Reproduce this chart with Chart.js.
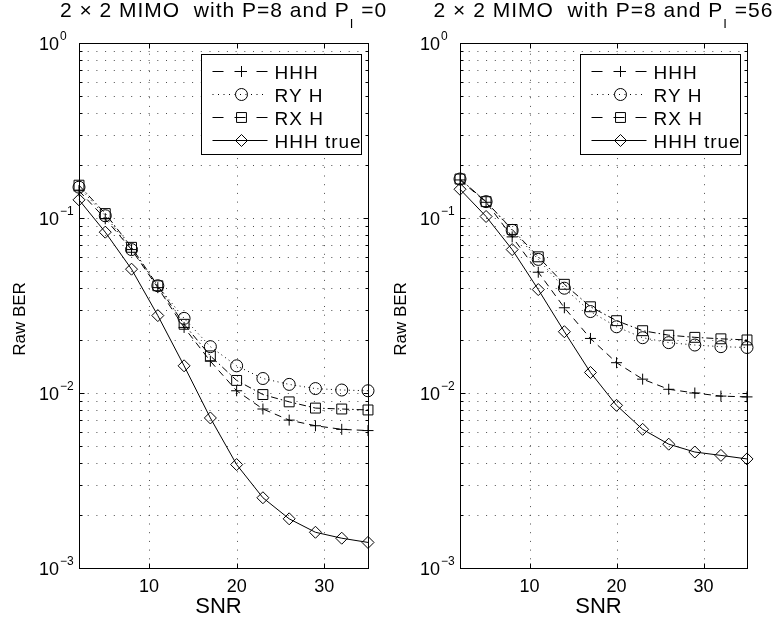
<!DOCTYPE html>
<html>
<head>
<meta charset="utf-8">
<script src="https://cdn.jsdelivr.net/npm/chart.js@4.4.1/dist/chart.umd.min.js"></script>
<style>
  body { margin: 0; background: #fff; }
  #wrap { position: relative; width: 778px; height: 621px; }
  canvas { position: absolute; top: 0; }
</style>
</head>
<body>
<div id="wrap">
  <canvas id="leftChart" width="389" height="621" style="left:0px"></canvas>
  <canvas id="rightChart" width="389" height="621" style="left:389px"></canvas>
</div>
<script>
const snr = [2, 5, 8, 11, 14, 17, 20, 23, 26, 29, 32, 35];

const hhhLeft = [0.143, 0.099, 0.066, 0.040, 0.0237, 0.0152, 0.0103, 0.0081, 0.0070, 0.0065, 0.0062, 0.0061];
const ryLeft = [0.150, 0.103, 0.066, 0.041, 0.0267, 0.0184, 0.0143, 0.0121, 0.0112, 0.0106, 0.0104, 0.0103];
const rxLeft = [0.154, 0.106, 0.068, 0.041, 0.0247, 0.0163, 0.0118, 0.0098, 0.0089, 0.0082, 0.0081, 0.0080];
const trueLeft = [0.127, 0.083, 0.051, 0.0277, 0.0143, 0.0072, 0.0039, 0.00252, 0.00191, 0.00160, 0.00148, 0.00140];

const hhhRight = [0.165, 0.123, 0.078, 0.049, 0.0307, 0.0205, 0.0149, 0.0120, 0.0105, 0.0100, 0.0096, 0.0095];
const ryRight = [0.167, 0.124, 0.085, 0.058, 0.0397, 0.0292, 0.0239, 0.0207, 0.0194, 0.0188, 0.0184, 0.0182];
const rxRight = [0.167, 0.124, 0.086, 0.060, 0.0418, 0.0311, 0.0259, 0.0227, 0.0214, 0.0208, 0.0204, 0.0201];
const trueRight = [0.146, 0.102, 0.066, 0.039, 0.0224, 0.0131, 0.0085, 0.0062, 0.0051, 0.0046, 0.0044, 0.0042];

const seriesLabels = ["HHH", "RY H", "RX H", "HHH true"];
const xTickValues = [10, 20, 30];
const yTickValues = [1, 0.1, 0.01, 0.001];
const yTickExponents = ["0", "\u22121", "\u22122", "\u22123"];
const titleMain = "2 \u00d7 2 MIMO  with P=8 and P";
const titleSub = "I";
const titleTails = ["=0", "=56"];

const FONT = '"Liberation Sans", Arial, Helvetica, sans-serif';

var lineStyles = [
  { marker: "cross", radius: 5.5, dash: [7, 5], legendDash: [11, 11] },
  { marker: "circle", radius: 6, dash: [1, 3.5], legendDash: [1, 4.5] },
  { marker: "rect", radius: 7, dash: [7, 3, 1.5, 3], legendDash: [11, 11] },
  { marker: "rectRot", radius: 6, dash: [], legendDash: [] },
];

function YGridValues() {
  var vals = [];
  for (var n = -3; n < 0; n++) {
    for (var k = 1; k <= 9; k++) {
      vals.push(k * Math.pow(10, n));
    }
  }
  return vals;
}

function DrawMarker(ctx, style, x, y, r) {
  ctx.beginPath();
  if (style === "cross") {
    ctx.moveTo(x - r, y);
    ctx.lineTo(x + r, y);
    ctx.moveTo(x, y - r);
    ctx.lineTo(x, y + r);
  } else if (style === "circle") {
    ctx.arc(x, y, r, 0, Math.PI * 2);
  } else if (style === "rect") {
    var s = r * Math.SQRT1_2;
    ctx.rect(x - s, y - s, 2 * s, 2 * s);
  } else {
    ctx.moveTo(x - r, y);
    ctx.lineTo(x, y - r);
    ctx.lineTo(x + r, y);
    ctx.lineTo(x, y + r);
    ctx.closePath();
  }
  ctx.stroke();
}

const matlabAxes = {
  id: "matlabAxes",
  beforeDatasetsDraw: function (chart) {
    var ctx = chart.ctx, a = chart.chartArea;
    var xs = chart.scales.x, ys = chart.scales.y;
    ctx.save();
    ctx.strokeStyle = "#4d4d4d";
    ctx.lineWidth = 1;
    ctx.setLineDash([1, 7.7]);
    YGridValues().forEach(function (v) {
      var py = Math.round(ys.getPixelForValue(v)) + 0.5;
      ctx.beginPath();
      ctx.moveTo(a.left, py);
      ctx.lineTo(a.right, py);
      ctx.stroke();
    });
    xTickValues.forEach(function (v) {
      var px = Math.round(xs.getPixelForValue(v)) + 0.5;
      ctx.beginPath();
      ctx.moveTo(px, a.bottom);
      ctx.lineTo(px, a.top);
      ctx.stroke();
    });
    ctx.restore();
  },
  afterDraw: function (chart, args, opts) {
    var ctx = chart.ctx, a = chart.chartArea;
    var xs = chart.scales.x, ys = chart.scales.y;
    var L = Math.round(a.left) + 0.5, R = Math.round(a.right) + 0.5;
    var T = Math.round(a.top) + 0.5, B = Math.round(a.bottom) + 0.5;

    ctx.save();
    ctx.strokeStyle = "#000";
    ctx.fillStyle = "#000";
    ctx.lineWidth = 1;
    ctx.setLineDash([]);

    // axes box and inward ticks
    ctx.strokeRect(L, T, R - L, B - T);
    YGridValues().forEach(function (v, i) {
      var py = Math.round(ys.getPixelForValue(v)) + 0.5;
      var len = i % 9 === 0 ? 5 : 3;
      ctx.beginPath();
      ctx.moveTo(L, py);
      ctx.lineTo(L + len, py);
      ctx.moveTo(R, py);
      ctx.lineTo(R - len, py);
      ctx.stroke();
    });
    xTickValues.forEach(function (v) {
      var px = Math.round(xs.getPixelForValue(v)) + 0.5;
      ctx.beginPath();
      ctx.moveTo(px, B);
      ctx.lineTo(px, B - 5);
      ctx.moveTo(px, T);
      ctx.lineTo(px, T + 5);
      ctx.stroke();
    });

    // y tick labels 10^n
    yTickValues.forEach(function (v, i) {
      var py = ys.getPixelForValue(v);
      ctx.font = "18px " + FONT;
      ctx.textAlign = "right";
      ctx.textBaseline = "alphabetic";
      ctx.fillText("10", a.left - 20, py + 7);
      ctx.font = "12px " + FONT;
      ctx.textAlign = "left";
      ctx.fillText(yTickExponents[i], a.left - 19, py - 3);
    });

    // axis titles
    ctx.font = "22px " + FONT;
    ctx.textAlign = "center";
    ctx.fillText("SNR", (a.left + a.right) / 2 - 5, 613);
    ctx.save();
    ctx.translate(a.left - 60.5 + 6, 319);
    ctx.rotate(-Math.PI / 2);
    ctx.font = "17px " + FONT;
    ctx.fillText("Raw BER", 0, 0);
    ctx.restore();

    // title with subscript
    ctx.letterSpacing = "1px";
    ctx.textAlign = "left";
    ctx.font = "21px " + FONT;
    var w1 = ctx.measureText(titleMain).width;
    var tail = " " + opts.titleTail;
    var w3 = ctx.measureText(tail).width;
    ctx.font = "13px " + FONT;
    var w2 = ctx.measureText(titleSub).width;
    var tx = (a.left + a.right) / 2 - (w1 + w2 + w3) / 2;
    ctx.font = "21px " + FONT;
    ctx.fillText(titleMain, tx, 17);
    ctx.font = "13px " + FONT;
    ctx.fillText(titleSub, tx + w1, 28);
    ctx.font = "21px " + FONT;
    ctx.fillText(tail, tx + w1 + w2, 17);

    // legend
    var bx = Math.round(a.right - 167) + 0.5;
    var by = Math.round(a.top + 11) + 0.5;
    ctx.fillStyle = "#fff";
    ctx.fillRect(bx, by, 160, 100);
    ctx.strokeRect(bx, by, 160, 100);
    ctx.fillStyle = "#000";
    ctx.font = "19px " + FONT;
    chart.data.datasets.forEach(function (ds, i) {
      var ry = Math.round(by + 16 + i * 23.3) + 0.5;
      ctx.setLineDash(ds.legendDash);
      ctx.beginPath();
      ctx.moveTo(bx + 11, ry);
      ctx.lineTo(bx + 66, ry);
      ctx.stroke();
      ctx.setLineDash([]);
      DrawMarker(ctx, ds.pointStyle, bx + 40, ry, ds.pointRadius);
      ctx.fillText(ds.label, bx + 73, ry + 7);
    });
    ctx.restore();
  },
};

function MakeDatasets(series) {
  return series.map(function (vals, i) {
    var st = lineStyles[i];
    return {
      label: seriesLabels[i],
      data: snr.map(function (x, k) {
        return { x: x, y: vals[k] };
      }),
      borderColor: "#000",
      borderWidth: 1,
      borderDash: st.dash,
      pointStyle: st.marker,
      pointRadius: st.radius,
      pointBorderColor: "#000",
      pointBorderWidth: 1,
      pointBackgroundColor: "rgba(0,0,0,0)",
      fill: false,
      tension: 0,
      clip: false,
      legendDash: st.legendDash,
    };
  });
}

function CreateChart(canvasId, series, titleTail, plotLeft, plotRight) {
  var canvas = document.getElementById(canvasId);

  new Chart(canvas, {
    type: "line",
    data: { datasets: MakeDatasets(series) },
    options: {
      responsive: false,
      animation: false,
      events: [],
      layout: { padding: { left: 0, right: 389 - plotRight, top: 43, bottom: 0 } },
      plugins: {
        legend: { display: false },
        tooltip: { enabled: false },
        title: { display: false },
        matlabAxes: { titleTail: titleTail },
      },
      scales: {
        x: {
          type: "linear",
          min: 2,
          max: 35,
          grid: { display: false, drawTicks: false },
          border: { display: false },
          ticks: { color: "#000", font: { family: FONT, size: 18 }, padding: 8, maxRotation: 0 },
          afterBuildTicks: function (scale) {
            scale.ticks = xTickValues.map(function (v) {
              return { value: v };
            });
          },
          afterFit: function (scale) {
            scale.height = 53;
          },
        },
        y: {
          type: "logarithmic",
          min: 0.001,
          max: 1,
          grid: { display: false, drawTicks: false },
          border: { display: false },
          ticks: { display: false },
          afterFit: function (scale) {
            scale.width = plotLeft;
          },
        },
      },
    },
    plugins: [matlabAxes],
  });
}

CreateChart("leftChart", [hhhLeft, ryLeft, rxLeft, trueLeft], titleTails[0], 79, 368);
CreateChart("rightChart", [hhhRight, ryRight, rxRight, trueRight], titleTails[1], 71, 358);
</script>
</body>
</html>
